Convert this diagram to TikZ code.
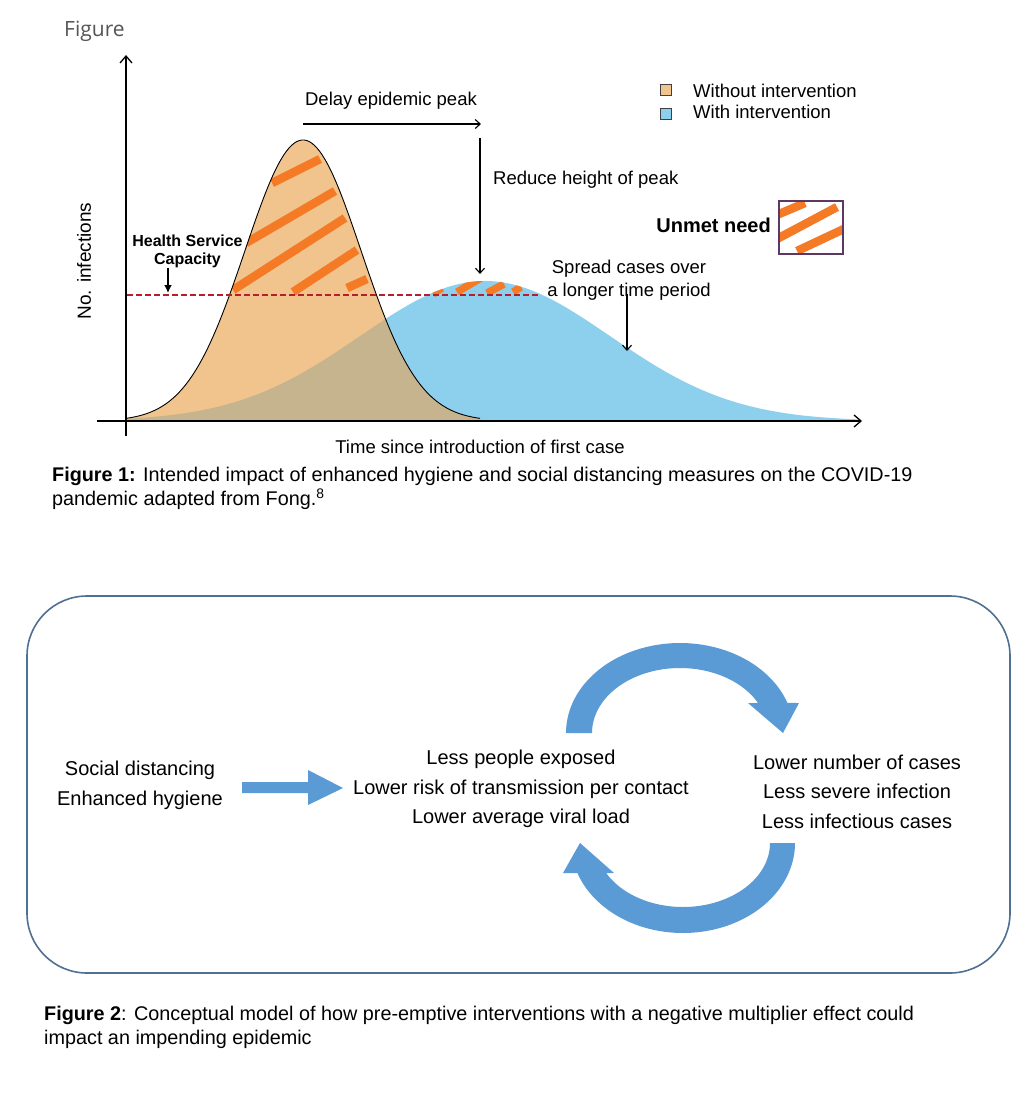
\documentclass[tikz,border=0pt]{standalone}
\usepackage{fontspec}
\setmainfont{Liberation Sans}
\newfontfamily\opensans{Open Sans}
\usetikzlibrary{arrows.meta}
\definecolor{orfill}{RGB}{241,196,142}
\definecolor{blfill}{RGB}{141,208,238}
\definecolor{ovfill}{RGB}{197,180,142}
\definecolor{hatchor}{RGB}{244,122,38}
\definecolor{capred}{RGB}{180,30,45}
\definecolor{arrowblue}{RGB}{91,155,213}
\definecolor{boxblue}{RGB}{80,112,145}
\definecolor{needbox}{RGB}{95,55,100}
\definecolor{figgray}{RGB}{85,85,85}
\begin{document}
\begin{tikzpicture}[x=1pt,y=-1pt,
  declare function={fo(\x)=421-281*exp(-((\x-303)/58)*((\x-303)/58)/2);
                     fb(\x)=421-140*exp(-((\x-485)/125)*((\x-485)/125)/2);},
  txt/.style={font=\fontsize{18.5}{22.5}\selectfont, inner sep=0pt},
  ftxt/.style={font=\fontsize{20}{29.5}\selectfont, inner sep=0pt, align=center},
  captxt/.style={font=\fontsize{19.8}{22}\selectfont, inner sep=0pt, anchor=west},
  hatchline/.style={hatchor, line width=8.5pt},
  thinarrow/.style={line width=1.1pt, -{Straight Barb[length=5pt,width=9pt]}},
  axisline/.style={line width=1.3pt, -{Straight Barb[length=7pt,width=12pt]}},
  blockarrow/.style={fill=arrowblue, draw=none}]
\useasboundingbox (0,0) rectangle (1033,1093);
\fill[white] (0,0) rectangle (1033,1093);

% ---------- Figure 1 ----------
\node[font=\opensans\fontsize{21}{25}\selectfont, text=figgray, anchor=west, inner sep=0pt] (figlabel) at (64,31) {Figure};

% blue curve
\fill[blfill] plot[domain=126:860,samples=160] (\x,{fb(\x)}) -- (860,421) -- (126,421) -- cycle;
% orange curve
\fill[orfill] plot[domain=126:480,samples=140] (\x,{fo(\x)}) -- (480,421) -- (126,421) -- cycle;
% overlap
\begin{scope}
  \clip plot[domain=126:860,samples=160] (\x,{fb(\x)}) -- (860,421) -- (126,421) -- cycle;
  \fill[ovfill] plot[domain=126:480,samples=140] (\x,{fo(\x)}) -- (480,421) -- (126,421) -- cycle;
\end{scope}
% hatch on orange
\begin{scope}
  \clip plot[domain=126:480,samples=140] (\x,{fo(\x)}) -- (480,421) -- (126,421) -- cycle;
  \draw[hatchline] (272,183) -- (320,159);
  \draw[hatchline] (246,243) -- (335,191);
  \draw[hatchline] (233,290) -- (345,218);
  \draw[hatchline] (293,292) -- (357,250);
  \draw[hatchline] (347,288) -- (367,279);
\end{scope}
% hatch on blue
\begin{scope}
  \clip plot[domain=126:860,samples=160] (\x,{fb(\x)}) -- (860,421) -- (126,421) -- cycle;
  \draw[hatchline, line width=7.5pt] (433,294) -- (442,288);
  \draw[hatchline, line width=7.5pt] (457,292) -- (481,278);
  \draw[hatchline, line width=7.5pt] (487,293) -- (504,284);
  \draw[hatchline, line width=7.5pt] (513,292) -- (521,287);
\end{scope}
% orange outline
\draw[black, line width=0.9pt] plot[domain=126:480,samples=140] (\x,{fo(\x)});
% capacity line
\coordinate (capL) at (127,295);
\coordinate (capR) at (540,295);
\draw[capred, line width=2.4pt, dash pattern=on 5.5pt off 3.5pt] (capL) -- (capR);

% axes
\coordinate (origin) at (126,436);
\coordinate (ytip) at (126,55);
\coordinate (xstart) at (97,421);
\coordinate (xtip) at (862,421);
\draw[axisline] (origin) -- (ytip);
\draw[axisline] (xstart) -- (xtip);

% labels and arrows
\node[txt] (delay) at (391,101) {Delay epidemic peak};
\coordinate (delayL) at (303,124);
\coordinate (delayR) at (481,124);
\draw[thinarrow] (delayL) -- (delayR);
\coordinate (reduceT) at (480,138);
\coordinate (reduceB) at (480,274);
\draw[thinarrow] (reduceT) -- (reduceB);
\node[txt, anchor=west] (reduce) at (493,180) {Reduce height of peak};

\node[txt, align=center] (spread) at (629,280) {Spread cases over\\a longer time period};
\coordinate (spreadB) at (627,351);
\draw[thinarrow] ([yshift=6pt]spread.south -| spreadB) -- (spreadB);

\node[font=\bfseries\fontsize{16}{18}\selectfont, inner sep=0pt, align=center] (hsc) at (187.5,251) {Health Service\\Capacity};
\coordinate (hscB) at (168,293);
\draw[line width=2.4pt, -{Latex[length=8pt,width=8pt]}] (hsc.south -| hscB) -- (hscB);

\node[font=\fontsize{19}{22}\selectfont, inner sep=0pt, rotate=90] (noinf) at (84,261) {No. infections};
\node[txt] (time) at (480,447) {Time since introduction of first case};

% legend
\node[draw=black!75, fill=orfill, line width=0.9pt, minimum size=10.5pt, inner sep=0pt] (legO) at (666,90) {};
\node[draw=black!75, fill=blfill, line width=0.9pt, minimum size=10.5pt, inner sep=0pt] (legB) at (666,114) {};
\node[txt, anchor=west] (legOt) at (693,91) {Without intervention};
\node[txt, anchor=west] (legBt) at (693,112) {With intervention};

% unmet need
\node[font=\bfseries\fontsize{20}{24}\selectfont, inner sep=0pt, anchor=east] (unmet) at (771,225) {Unmet need};
\begin{scope}
  \clip (779,201) rectangle (843,254);
  \draw[hatchline] (772,217) -- (805,203);
  \draw[hatchline] (775,240) -- (837,207);
  \draw[hatchline] (797,251) -- (848,227);
\end{scope}
\draw[needbox, line width=1.3pt] (779,201) rectangle (843,254);

% caption 1
\node[captxt] (cap1a) at (52,476) {\textbf{Figure 1:} Intended impact of enhanced hygiene and social distancing measures on the COVID-19};
\node[captxt] (cap1b) at (52,499) {pandemic adapted from Fong.\textsuperscript{8}};

% ---------- Figure 2 ----------
\draw[boxblue, line width=1.6pt, rounded corners=60pt] (27,596) rectangle (1010,973);

\node[ftxt, font=\fontsize{20}{30}\selectfont] (inputs) at (140,785) {Social distancing\\Enhanced hygiene};
\node[ftxt] (effects) at (521,789) {Less people exposed\\Lower risk of transmission per contact\\Lower average viral load};
\node[ftxt] (outcomes) at (857,791.5) {Lower number of cases\\Less severe infection\\Less infectious cases};

% straight block arrow
\fill[blockarrow] (242,782) -- (308,782) -- (308,770) -- (343,788) -- (308,805) -- (308,793) -- (242,793) -- cycle;

% top curved arrow
\fill[blockarrow] plot[domain=180:340.5,samples=80] ({680+114*cos(\x)},{733+90*sin(\x)})
  -- (799,703) -- (783,733) -- (748,703)
  -- plot[domain=332.5:180,samples=80] ({680+88*cos(\x)},{733+65*sin(\x)}) -- cycle;
% bottom curved arrow
\fill[blockarrow] plot[domain=0:160.5,samples=80] ({683+112*cos(\x)},{843+90*sin(\x)})
  -- (563,873) -- (580,843) -- (614,873)
  -- plot[domain=152:0,samples=80] ({683+87*cos(\x)},{843+64*sin(\x)}) -- cycle;

% caption 2
\node[captxt] (cap2a) at (44,1015) {\textbf{Figure 2}: Conceptual model of how pre-emptive interventions with a negative multiplier effect could};
\node[captxt] (cap2b) at (44,1039) {impact an impending epidemic};
\end{tikzpicture}
\end{document}
